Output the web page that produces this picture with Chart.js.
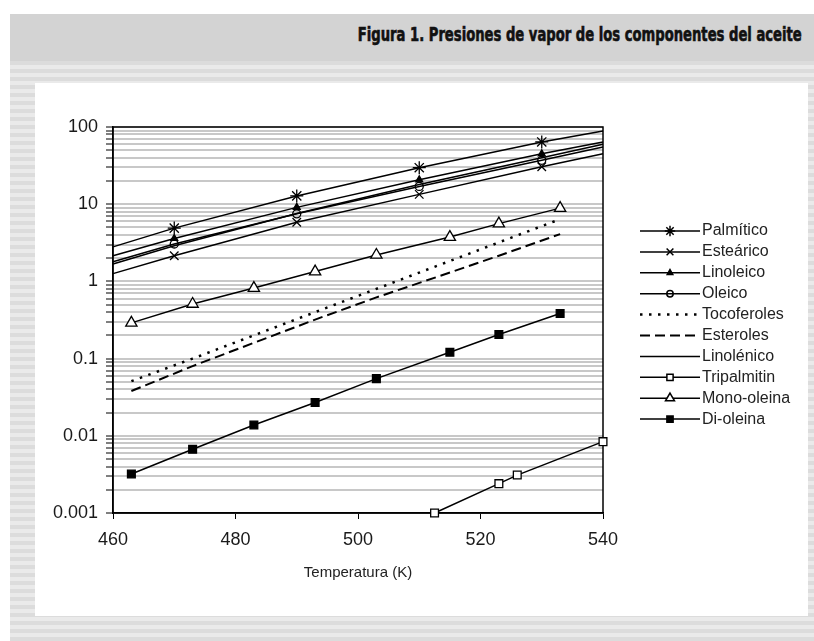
<!DOCTYPE html>
<html lang="es">
<head>
<meta charset="UTF-8">
<title>Presiones de vapor de los componentes del aceite</title>
<script src="https://cdn.jsdelivr.net/npm/chart.js"></script>
<style>
  body {
    margin: 0;
    width: 814px;
    height: 641px;
    position: relative;
    overflow: hidden;
    background: #fff;
    font-family: 'Liberation Sans', Arial, sans-serif;
  }
  .stripes {
    position: absolute;
    left: 10px; top: 61px; right: 0; bottom: 0;
    background: repeating-linear-gradient(to bottom, #dcdcdc 0 4px, #eaeaea 4px 8px);
  }
  .header {
    position: absolute;
    left: 10px; top: 14px; right: 0;
    height: 47px;
    background: #d3d3d3;
  }
  .header h1 {
    position: absolute;
    right: 12px; top: 11px;
    margin: 0;
    font: bold 19px/19px 'Liberation Sans Narrow', 'DejaVu Sans Condensed', sans-serif;
    color: #111;
    -webkit-text-stroke: 0.6px #111;
    white-space: nowrap;
    transform-origin: right center;
  }
  .panel {
    position: absolute;
    left: 35px; top: 83px;
    width: 773px; height: 533px;
    background: #fff;
  }
  .chart-box {
    position: absolute;
    left: 0; top: 0;
    width: 814px; height: 641px;
  }
</style>
</head>
<body>

  <div class="stripes"></div>
  <div class="header"><h1 id="title">Figura 1. Presiones de vapor de los componentes del aceite</h1></div>
  <div class="panel"></div>

  <div class="chart-box">
    <canvas id="vaporChart" width="814" height="641"></canvas>
  </div>

<script>
  // fatty acids: lines run edge to edge, markers at the four inner temperatures
  const acidTemps = [460, 470, 490, 510, 530, 540];
  const palmitico = [2.8, 4.9, 12.8, 29.7, 64, 89];
  const estearico = [1.26, 2.15, 5.85, 13.4, 30.5, 45];
  const linoleico = [2.15, 3.6, 9.1, 20.7, 45, 64];
  const oleico = [1.8, 3.05, 7.5, 17, 37, 55];
  const linolenico = [1.68, 2.9, 7.6, 18, 40, 59.6];

  const minorTemps = [463, 473, 483, 493, 503, 513, 523, 533];
  const tocoferoles = [0.051, 0.1, 0.2, 0.4, 0.8, 1.6, 3.2, 6.4];
  const esteroles = [0.038, 0.08, 0.16, 0.32, 0.62, 1.15, 2.15, 4.1];

  const glycerideTemps = [463, 473, 483, 493, 503, 515, 523, 533];
  const monoOleina = [0.29, 0.51, 0.82, 1.34, 2.2, 3.75, 5.6, 8.9];
  const diOleina = [0.0032, 0.0067, 0.0138, 0.027, 0.055, 0.121, 0.205, 0.384];

  const tripalmitinTemps = [512.5, 523, 526, 540];
  const tripalmitin = [0.001, 0.0024, 0.0031, 0.0084];

  const xTicks = [460, 480, 500, 520, 540];
  const yTickLabels = ['0.001', '0.01', '0.1', '1', '10', '100'];

  const pts = (xs, ys) => xs.map((x, i) => ({ x: x, y: ys[i] }));
  const innerMarks = r => acidTemps.map((t, i) => (i === 0 || i === acidTemps.length - 1) ? 0 : r);

  const base = {
    borderColor: '#000',
    borderWidth: 1.5,
    pointBorderColor: '#000',
    pointBorderWidth: 1.3,
    pointHoverRadius: 0,
    tension: 0,
    clip: false,
    showLine: true
  };

  const datasets = [
    Object.assign({}, base, { label: 'Palmítico', data: pts(acidTemps, palmitico),
      pointStyle: 'star', pointRadius: innerMarks(6.5), pointBackgroundColor: '#000' }),
    Object.assign({}, base, { label: 'Esteárico', data: pts(acidTemps, estearico),
      pointStyle: 'crossRot', pointRadius: innerMarks(6), pointBackgroundColor: '#000' }),
    Object.assign({}, base, { label: 'Linoleico', data: pts(acidTemps, linoleico),
      pointStyle: 'triangle', pointRadius: innerMarks(4), pointBackgroundColor: '#000' }),
    Object.assign({}, base, { label: 'Oleico', data: pts(acidTemps, oleico),
      pointStyle: 'circle', pointRadius: innerMarks(4), pointBackgroundColor: 'rgba(255,255,255,0)' }),
    Object.assign({}, base, { label: 'Tocoferoles', data: pts(minorTemps, tocoferoles),
      pointRadius: 0, borderWidth: 2.5, borderDash: [2.5, 6.5], borderCapStyle: 'butt' }),
    Object.assign({}, base, { label: 'Esteroles', data: pts(minorTemps, esteroles),
      pointRadius: 0, borderWidth: 2, borderDash: [10, 5], borderCapStyle: 'butt' }),
    Object.assign({}, base, { label: 'Linolénico', data: pts(acidTemps, linolenico),
      pointRadius: 0 }),
    Object.assign({}, base, { label: 'Tripalmitin', data: pts(tripalmitinTemps, tripalmitin),
      pointStyle: 'rect', pointRadius: 5.5, pointBackgroundColor: '#fff' }),
    Object.assign({}, base, { label: 'Mono-oleina', data: pts(glycerideTemps, monoOleina),
      pointStyle: 'triangle', pointRadius: 6.5, pointBackgroundColor: '#fff' }),
    Object.assign({}, base, { label: 'Di-oleina', data: pts(glycerideTemps, diOleina),
      pointStyle: 'rect', pointRadius: 5.5, pointBackgroundColor: '#000' })
  ];

  // black box round the plot area (top and right sides)
  const frame = {
    id: 'frame',
    beforeDatasetsDraw(chart) {
      const a = chart.chartArea, ctx = chart.ctx;
      ctx.save();
      ctx.strokeStyle = '#000';
      ctx.lineWidth = 1.5;
      ctx.strokeRect(a.left, a.top, a.right - a.left, a.bottom - a.top);
      ctx.restore();
    }
  };

  // Excel style legend: line sample with the marker in the middle
  const sideLegend = {
    id: 'sideLegend',
    afterDraw(chart) {
      const ctx = chart.ctx;
      ctx.save();
      chart.data.datasets.forEach((ds, i) => {
        const y = 231 + i * 20.9;
        ctx.strokeStyle = '#000';
        ctx.lineWidth = ds.borderWidth;
        ctx.setLineDash(ds.borderDash || []);
        ctx.beginPath();
        ctx.moveTo(640, y);
        ctx.lineTo(700, y);
        ctx.stroke();
        ctx.setLineDash([]);
        const r = Array.isArray(ds.pointRadius) ? Math.max(...ds.pointRadius) : ds.pointRadius;
        if (r > 0) {
          ctx.fillStyle = ds.pointBackgroundColor;
          ctx.strokeStyle = '#000';
          Chart.helpers.drawPoint(ctx, {
            pointStyle: ds.pointStyle, radius: r * 0.8, rotation: 0, borderWidth: 1.3
          }, 670, y);
        }
        ctx.fillStyle = '#222';
        ctx.font = "16px 'Liberation Sans', Arial, sans-serif";
        ctx.textAlign = 'left';
        ctx.textBaseline = 'middle';
        ctx.fillText(ds.label, 702, y);
      });
      ctx.restore();
    }
  };

  const tickFont = { family: "'Liberation Sans', Arial, sans-serif", size: 18 };

  new Chart(document.getElementById('vaporChart'), {
    type: 'scatter',
    data: { datasets: datasets },
    options: {
      responsive: false,
      animation: false,
      devicePixelRatio: 1,
      layout: { padding: { left: 40, top: 127, right: 211, bottom: 51 } },
      plugins: {
        legend: { display: false },
        tooltip: { enabled: false }
      },
      scales: {
        x: {
          type: 'linear',
          min: 460,
          max: 540,
          afterBuildTicks: s => { s.ticks = xTicks.map(v => ({ value: v })); },
          afterFit: s => { s.height = 77; },
          ticks: { padding: 10, color: '#1a1a1a', font: tickFont, maxRotation: 0 },
          grid: { drawOnChartArea: false, tickLength: 6, color: '#000', tickColor: '#000' },
          border: { color: '#000', width: 1.5 },
          title: {
            display: true,
            text: 'Temperatura (K)',
            color: '#222',
            font: { family: "'Liberation Sans', Arial, sans-serif", size: 15 },
            padding: { top: 0, bottom: 8 }
          }
        },
        y: {
          type: 'logarithmic',
          min: 0.001,
          max: 100,
          afterBuildTicks: s => {
            const t = [];
            for (let e = -3; e < 2; e++) {
              for (let m = 1; m < 10; m++) t.push({ value: m * Math.pow(10, e) });
            }
            t.push({ value: 100 });
            s.ticks = t;
          },
          afterFit: s => { s.width = 73; },
          ticks: {
            autoSkip: false,
            padding: 8,
            color: '#1a1a1a',
            font: tickFont,
            callback: v => {
              const e = Math.log10(v);
              return Math.abs(e - Math.round(e)) < 1e-6 ? yTickLabels[Math.round(e) + 3] : '';
            }
          },
          grid: { color: '#c8c8c8', lineWidth: 2, tickColor: '#000', tickWidth: 1, tickLength: 7 },
          border: { color: '#000', width: 1.5 }
        }
      }
    },
    plugins: [frame, sideLegend]
  });

  // squeeze the condensed heading to the width it has in the figure
  const title = document.getElementById('title');
  const w = title.getBoundingClientRect().width;
  title.style.transform = 'scaleX(' + (444 / w) + ')';
</script>
</body>
</html>
